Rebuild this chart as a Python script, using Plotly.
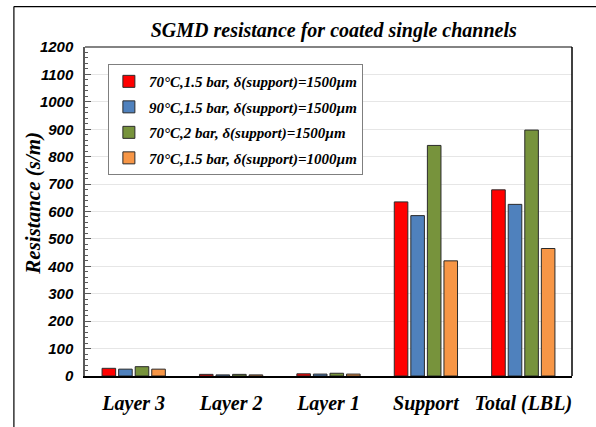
import plotly.graph_objects as go

categories = ["Layer 3", "Layer 2", "Layer 1", "Support", "Total (LBL)"]
series_names = [
    "70°C,1.5 bar, δ(support)=1500µm",
    "90°C,1.5 bar, δ(support)=1500µm",
    "70°C,2 bar, δ(support)=1500µm",
    "70°C,1.5 bar, δ(support)=1000µm",
]
s1 = [28, 6, 8, 635, 679]
s2 = [25, 4, 7, 585, 626]
s3 = [34, 6, 10, 841, 897]
s4 = [25, 4, 7, 420, 465]
series_values = [s1, s2, s3, s4]
colors = ["#ff0000", "#4f81bd", "#77933c", "#f79646"]
y_ticks = list(range(0, 1201, 100))

serif = "Liberation Serif"
sans = "Liberation Sans"

fig = go.Figure()
for i, (name, vals, col) in enumerate(zip(series_names, series_values, colors)):
    fig.add_trace(go.Bar(
        x=categories, y=vals, name=name,
        marker=dict(color=col, line=dict(color="#2b2b2b", width=1)),
        legendgroup=f"g{i}",
    ))

fig.update_layout(
    width=596, height=427,
    margin=dict(l=85, r=24, t=47, b=51),
    paper_bgcolor="white", plot_bgcolor="white",
    barmode="group", bargap=0.32, bargroupgap=0.18,
    showlegend=True,
    title=dict(
        text="SGMD resistance for coated single channels",
        x=0.56, xanchor="center", y=0.93, yanchor="middle",
        font=dict(family=serif, size=20, color="black", weight="bold", style="italic"),
    ),
    legend=dict(
        x=0.047, y=0.948, xanchor="left", yanchor="top",
        bgcolor="white", bordercolor="#7f7f7f", borderwidth=1,
        font=dict(family=serif, size=15, color="black", weight="bold", style="italic"),
        tracegroupgap=3, itemwidth=30,
    ),
    xaxis=dict(
        showline=True, linecolor="black", linewidth=1.5, mirror=False,
        ticks="", showgrid=False, ticklabelstandoff=8,
        tickfont=dict(family=serif, size=20, color="black", weight="bold", style="italic"),
    ),
    yaxis=dict(
        range=[0, 1200], tickvals=y_ticks, ticktext=[str(v) for v in y_ticks],
        showline=True, linecolor="#5a5a5a", linewidth=1.5,
        ticks="inside", ticklen=6, tickcolor="#5a5a5a",
        minor=dict(ticks="inside", dtick=20, ticklen=3, tickcolor="#5a5a5a", showgrid=False),
        showgrid=True, gridcolor="#e6e6e6", gridwidth=1,
        zeroline=False, ticklabelstandoff=7,
        tickfont=dict(family=sans, size=15, color="black", weight="bold", style="italic"),
    ),
)

# Y-axis title placed close to the three-digit tick labels
fig.add_annotation(
    text="Resistance (s/m)", textangle=-90, showarrow=False,
    xref="paper", yref="paper", x=-0.106, y=0.525,
    xanchor="center", yanchor="middle",
    font=dict(family=serif, size=21, color="black", weight="bold", style="italic"),
)

# Top and right plot border
fig.add_shape(type="line", xref="paper", yref="paper", x0=0, x1=1, y0=1, y1=1,
              line=dict(color="#5a5a5a", width=1.5))
fig.add_shape(type="line", xref="paper", yref="paper", x0=1, x1=1, y0=0, y1=1,
              line=dict(color="black", width=1.5))
# Outer frame around the figure
fig.add_shape(type="line", xref="paper", yref="paper", x0=-0.146, x1=1.1, y0=1.123, y1=1.123,
              line=dict(color="black", width=1.2))
fig.add_shape(type="line", xref="paper", yref="paper", x0=-0.146, x1=-0.146, y0=-0.2, y1=1.123,
              line=dict(color="black", width=1.2))

fig.write_html("out.html")
